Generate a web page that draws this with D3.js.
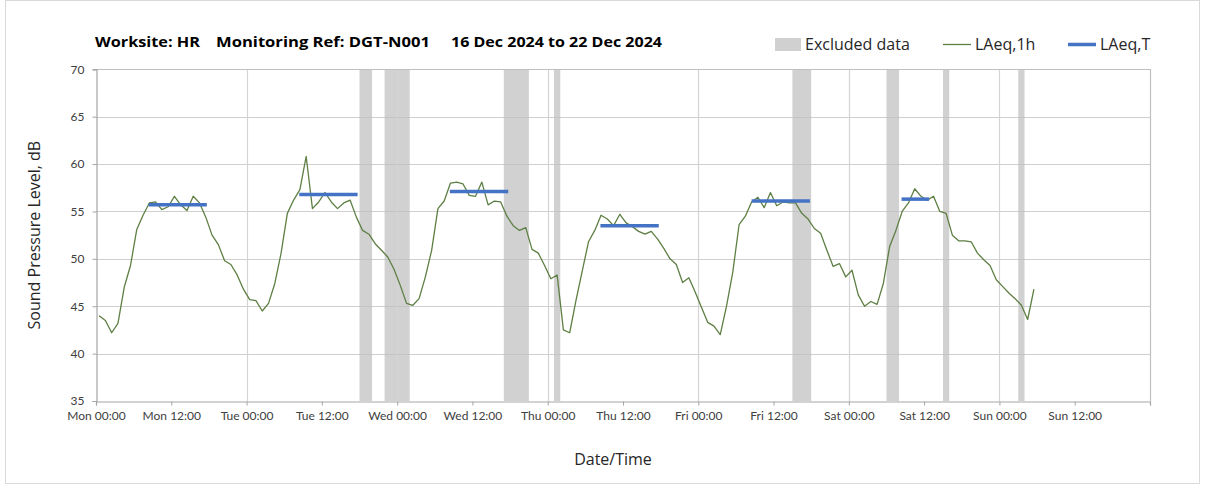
<!DOCTYPE html>
<html>
<head>
<meta charset="utf-8">
<script src="https://cdn.jsdelivr.net/npm/d3@7"></script>
<style>
  html, body { margin: 0; padding: 0; background: #fff; }
  svg { display: block; }
  text { font-family: Lato, "Open Sans", "DejaVu Sans", sans-serif; }
  .big { font-family: "Open Sans", Lato, sans-serif; }
</style>
</head>
<body>
<svg id="chart" width="1208" height="491"></svg>
<script>
// ---------- DATA ----------
const titleParts = ["Worksite: HR", "Monitoring Ref: DGT-N001", "16 Dec 2024 to 22 Dec 2024"];
const seriesStart = "2024-12-16T00:30:00Z";   // first hourly LAeq,1h value (mid-hour)
const laeq1h = [
  44.0, 43.5, 42.2, 43.2, 47.0, 49.3, 53.1, 54.6, 55.9, 56.0,
  55.2, 55.5, 56.6, 55.7, 55.1, 56.6, 55.9, 54.4, 52.5, 51.5,
  49.8, 49.4, 48.3, 46.8, 45.7, 45.6, 44.5, 45.3, 47.4, 50.6,
  54.8, 56.2, 57.3, 60.8, 55.3, 56.0, 57.0, 56.0, 55.3, 55.9,
  56.2, 54.4, 53.0, 52.6, 51.6, 50.9, 50.2, 48.9, 47.2, 45.3,
  45.1, 45.8, 48.1, 50.9, 55.3, 56.1, 58.0, 58.1, 57.9, 56.7,
  56.6, 58.1, 55.7, 56.1, 56.0, 54.5, 53.5, 53.0, 53.3, 51.0,
  50.6, 49.3, 47.9, 48.3, 42.5, 42.2, 45.6, 48.7, 51.8, 53.0,
  54.6, 54.2, 53.5, 54.7, 53.8, 53.4, 52.9, 52.6, 52.9, 52.1,
  51.1, 50.0, 49.4, 47.5, 48.0, 46.5, 44.9, 43.3, 42.9, 42.0,
  45.0, 48.6, 53.6, 54.5, 56.0, 56.5, 55.4, 57.0, 55.6, 56.0,
  55.9, 55.9, 54.8, 54.2, 53.2, 52.7, 50.9, 49.2, 49.5, 48.1,
  48.8, 46.2, 45.0, 45.5, 45.2, 47.4, 51.3, 53.0, 55.0, 55.9,
  57.4, 56.6, 56.2, 56.6, 55.0, 54.8, 52.5, 51.9, 51.9, 51.8,
  50.6, 49.9, 49.3, 47.8, 47.1, 46.4, 45.8, 45.1, 43.6, 46.8
];
const laeqTStart = ["2024-12-16T08:24Z","2024-12-17T08:24Z","2024-12-18T08:24Z","2024-12-19T08:24Z","2024-12-20T08:30Z","2024-12-21T08:24Z"];
const laeqTEnd   = ["2024-12-16T17:40Z","2024-12-17T17:42Z","2024-12-18T17:42Z","2024-12-19T17:42Z","2024-12-20T17:48Z","2024-12-21T12:48Z"];
const laeqTValue = [55.7, 56.8, 57.1, 53.5, 56.1, 56.3];
const excludedStart = ["2024-12-17T18:00Z","2024-12-17T22:00Z","2024-12-18T17:00Z","2024-12-19T01:00Z","2024-12-20T15:00Z","2024-12-21T06:00Z","2024-12-21T15:00Z","2024-12-22T03:00Z"];
const excludedEnd   = ["2024-12-17T20:00Z","2024-12-18T02:00Z","2024-12-18T21:00Z","2024-12-19T02:00Z","2024-12-20T18:00Z","2024-12-21T08:00Z","2024-12-21T16:00Z","2024-12-22T04:00Z"];
const xDomain = ["2024-12-16T00:00Z", "2024-12-23T00:00Z"];
const yDomain = [35, 70];
const yTicks = [35, 40, 45, 50, 55, 60, 65, 70];
const legendLabels = ["Excluded data", "LAeq,1h", "LAeq,T"];
const xAxisTitle = "Date/Time";
const yAxisTitle = "Sound Pressure Level, dB";

// ---------- CHART ----------
const svg = d3.select("#chart");
const plot = { left: 96, right: 1150, top: 69.3, bottom: 401 };
const parse = s => new Date(s);

const x = d3.scaleUtc().domain(xDomain.map(parse)).range([plot.left, plot.right]);
const y = d3.scaleLinear().domain(yDomain).range([plot.bottom, plot.top]);

const t0 = parse(seriesStart);
const lineData = laeq1h.map((v, i) => ({ t: d3.utcHour.offset(t0, i), v }));
const bands = excludedStart.map((s, i) => ({ s: parse(s), e: parse(excludedEnd[i]) }));
const segs = laeqTValue.map((v, i) => ({ s: parse(laeqTStart[i]), e: parse(laeqTEnd[i]), v }));

// outer chart border
svg.append("rect").attr("x", 5.5).attr("y", 0.5).attr("width", 1194).attr("height", 483)
  .attr("fill", "none").attr("stroke", "#d9d9d9").attr("stroke-width", 1);

// horizontal gridlines
svg.append("g").selectAll("line").data(yTicks.filter(d => d > yDomain[0])).join("line")
  .attr("x1", plot.left).attr("x2", plot.right)
  .attr("y1", d => Math.round(y(d)) + 0.5).attr("y2", d => Math.round(y(d)) + 0.5)
  .attr("stroke", "#cfcfcf").attr("stroke-width", 1.2);

// excluded data bands
svg.append("g").selectAll("rect").data(bands).join("rect")
  .attr("x", d => x(d.s)).attr("width", d => x(d.e) - x(d.s))
  .attr("y", plot.top).attr("height", plot.bottom - plot.top)
  .attr("fill", "#bdbdbd").attr("fill-opacity", 0.7);

// vertical day gridlines
const dayTicks = d3.utcDay.range(d3.utcDay.offset(x.domain()[0], 1), x.domain()[1]);
svg.append("g").selectAll("line").data(dayTicks).join("line")
  .attr("x1", d => Math.round(x(d)) + 0.5).attr("x2", d => Math.round(x(d)) + 0.5)
  .attr("y1", plot.top).attr("y2", plot.bottom)
  .attr("stroke", "#d4d4d4").attr("stroke-width", 1.2);

// plot frame (top & right)
svg.append("path")
  .attr("d", `M${plot.left},${Math.round(plot.top)+0.5}H${Math.round(plot.right)+0.5}V${plot.bottom}`)
  .attr("fill", "none").attr("stroke", "#bfbfbf").attr("stroke-width", 1.2);

// x axis
const xTicks = d3.utcHour.every(12).range(x.domain()[0], x.domain()[1]);
const fmt = d3.utcFormat("%a %H:%M");
const xAxis = svg.append("g").attr("transform", `translate(0,${plot.bottom + 0.5})`)
  .call(d3.axisBottom(x).tickValues(xTicks.concat([x.domain()[1]])).tickFormat(d => +d === +x.domain()[1] ? "" : fmt(d)).tickSize(4).tickPadding(6));
xAxis.select(".domain").attr("stroke", "#a6a6a6").attr("stroke-width", 1.2);
xAxis.selectAll(".tick line").attr("stroke", "#a6a6a6");
xAxis.selectAll("text").attr("fill", "#404040").style("font-size", "12px");

// y axis
const yAxis = svg.append("g").attr("transform", `translate(${plot.left + 0.5},0)`)
  .call(d3.axisLeft(y).tickValues(yTicks).tickSize(4).tickPadding(8));
yAxis.select(".domain").attr("stroke", "#a6a6a6").attr("stroke-width", 1.2);
yAxis.selectAll(".tick line").attr("stroke", "#a6a6a6");
yAxis.selectAll("text").attr("fill", "#404040").style("font-size", "12px");

// LAeq,1h line
svg.append("path").datum(lineData)
  .attr("d", d3.line().x(d => x(d.t)).y(d => y(d.v)))
  .attr("fill", "none").attr("stroke", "#5d7f43").attr("stroke-width", 1.3)
  .attr("stroke-linejoin", "round");

// LAeq,T segments
svg.append("g").selectAll("line").data(segs).join("line")
  .attr("x1", d => x(d.s)).attr("x2", d => x(d.e))
  .attr("y1", d => y(d.v)).attr("y2", d => y(d.v))
  .attr("stroke", "#4472c4").attr("stroke-width", 3.5);

// title
const titleX = [95, 216, 451];
const titleW = [105, 214, 211];
titleParts.forEach((p, i) => svg.append("text").attr("class", "big")
  .attr("x", titleX[i]).attr("y", 47).attr("fill", "#000")
  .attr("textLength", titleW[i]).attr("lengthAdjust", "spacingAndGlyphs")
  .style("font-size", "15px").style("font-weight", "bold").text(p));

// legend
const lg = svg.append("g").attr("class", "big").style("font-size", "16px").attr("fill", "#262626");
lg.append("rect").attr("x", 775).attr("y", 38).attr("width", 26).attr("height", 13).attr("fill", "#d0d0d0");
lg.append("text").attr("class", "big").attr("x", 805).attr("y", 50).text(legendLabels[0]);
lg.append("line").attr("x1", 943).attr("x2", 971).attr("y1", 44.5).attr("y2", 44.5).attr("stroke", "#5d7f43").attr("stroke-width", 1.3);
lg.append("text").attr("class", "big").attr("x", 975).attr("y", 50).text(legendLabels[1]);
lg.append("line").attr("x1", 1068).attr("x2", 1096).attr("y1", 44.5).attr("y2", 44.5).attr("stroke", "#4472c4").attr("stroke-width", 3.5);
lg.append("text").attr("class", "big").attr("x", 1100).attr("y", 50).text(legendLabels[2]);

// axis titles
svg.append("text").attr("class", "big").attr("x", 613).attr("y", 465).attr("text-anchor", "middle")
  .attr("fill", "#262626").style("font-size", "16px").text(xAxisTitle);
svg.append("text").attr("class", "big").attr("transform", `translate(40,${(plot.top + plot.bottom) / 2}) rotate(-90)`)
  .attr("text-anchor", "middle").attr("fill", "#262626").style("font-size", "16px").text(yAxisTitle);
</script>
</body>
</html>
